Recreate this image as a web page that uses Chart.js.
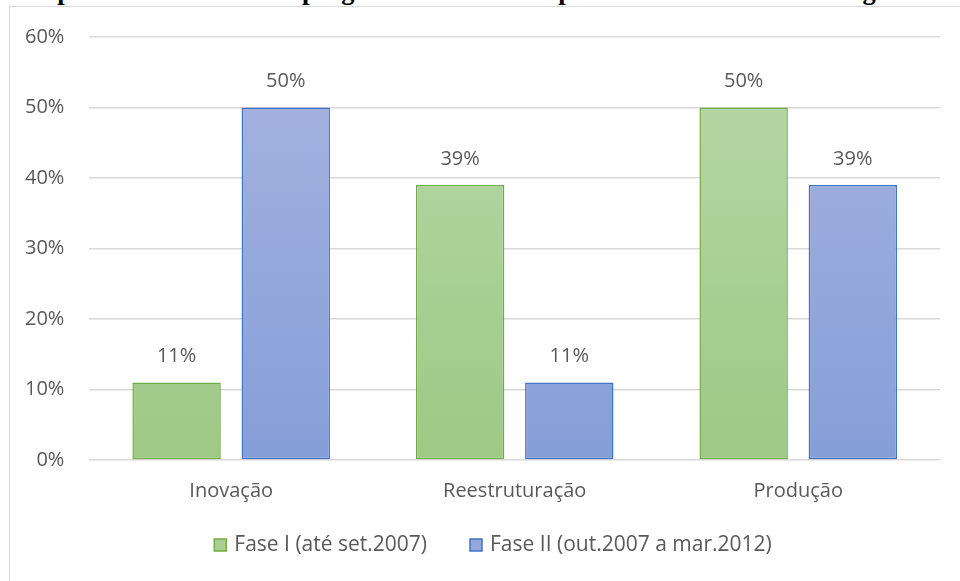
<!DOCTYPE html>
<html>
<head>
<meta charset="utf-8">
<script src="https://cdn.jsdelivr.net/npm/chart.js@4"></script>
<style>
  html, body { margin: 0; padding: 0; background: #fff; overflow: hidden; }
  #wrap { position: relative; width: 960px; height: 581px; overflow: hidden; }
  #frame { position: absolute; left: 9px; top: 6px; width: 980px; height: 600px; border: 1px solid #d9d9d9; box-sizing: border-box; }
  #title { position: absolute; left: 44px; top: -25px; line-height: 26px; white-space: nowrap; font: bold 26.5px 'Liberation Serif', serif; color: #000; }
  #chart { position: absolute; left: 0; top: 0; }
</style>
</head>
<body>
<div id="wrap">
  <div id="title">aprovadas em seus subprogramas durante os períodos selecionados de vigência</div>
  <div id="frame"></div>
  <canvas id="chart" width="960" height="581"></canvas>
</div>
<script>
// Chart data
const categories = ['Inovação', 'Reestruturação', 'Produção'];
const fase1 = [11, 39, 50];
const fase2 = [50, 11, 39];
const seriesNames = ['Fase I (até set.2007)', 'Fase II (out.2007 a mar.2012)'];
const yTicks = [0, 10, 20, 30, 40, 50, 60];

document.addEventListener("DOMContentLoaded", function() {
    const fontOpts = { family: "'Open Sans', sans-serif", size: 20 };
    const textColor = '#595959';
    const fills = ['#a9d08e', '#95a8dc'];
    const strokes = ['#70ad47', '#4472c4'];

    function grad(ctx, top, bottom, fallback) {
        const area = ctx.chart.chartArea;
        if (!area) return fallback;
        const g = ctx.chart.ctx.createLinearGradient(0, area.top, 0, area.bottom);
        g.addColorStop(0, top);
        g.addColorStop(1, bottom);
        return g;
    }

    // Value labels above bars
    const valueLabels = {
        id: 'valueLabels',
        afterDatasetsDraw(chart) {
            const c = chart.ctx;
            c.save();
            c.font = "20px " + fontOpts.family;
            c.fillStyle = textColor;
            c.textAlign = 'center';
            c.textBaseline = 'middle';
            chart.data.datasets.forEach((ds, i) => {
                chart.getDatasetMeta(i).data.forEach((bar, j) => {
                    c.fillText(ds.data[j] + '%', bar.x, bar.y - 26);
                });
            });
            c.restore();
        }
    };

    // Legend drawn under the chart, centred like the Excel one
    const bottomLegend = {
        id: 'bottomLegend',
        afterDraw(chart) {
            const c = chart.ctx;
            const box = 12, gapText = 10, gapItem = 41, cx = 494, cy = 545;
            c.save();
            c.font = "21px " + fontOpts.family;
            c.textBaseline = 'middle';
            const widths = seriesNames.map(n => c.measureText(n).width);
            let total = gapItem * (seriesNames.length - 1);
            widths.forEach(w => { total += box + gapText + w; });
            let x = cx - total / 2;
            seriesNames.forEach((n, i) => {
                c.fillStyle = fills[i];
                c.strokeStyle = strokes[i];
                c.lineWidth = 1.5;
                c.fillRect(x, cy - box / 2, box, box);
                c.strokeRect(x, cy - box / 2, box, box);
                c.fillStyle = textColor;
                c.fillText(n, x + box + gapText - 2, cy);
                x += box + gapText + widths[i] + gapItem;
            });
            c.restore();
        }
    };

    new Chart(document.getElementById('chart').getContext('2d'), {
        type: 'bar',
        data: {
            labels: categories,
            datasets: [
                {
                    label: seriesNames[0],
                    data: fase1,
                    backgroundColor: ctx => grad(ctx, '#b8d8aa', '#9dc984', fills[0]),
                    borderColor: strokes[0],
                    borderWidth: 1.5,
                    borderSkipped: false,
                    barPercentage: 0.81,
                    categoryPercentage: 0.77
                },
                {
                    label: seriesNames[1],
                    data: fase2,
                    backgroundColor: ctx => grad(ctx, '#a7b4e0', '#869ed8', fills[1]),
                    borderColor: strokes[1],
                    borderWidth: 1.5,
                    borderSkipped: false,
                    barPercentage: 0.81,
                    categoryPercentage: 0.77
                }
            ]
        },
        options: {
            responsive: false, animation: false,
            layout: { padding: { left: 0, right: 20, top: 33, bottom: 59 } },
            plugins: {
                tooltip: { enabled: false },
                legend: { display: false }
            },
            scales: {
                x: {
                    grid: { display: false, drawTicks: false },
                    border: { display: false },
                    ticks: { font: fontOpts, color: textColor, padding: 19 }
                },
                y: {
                    min: 0, max: 60,
                    afterBuildTicks: axis => { axis.ticks = yTicks.map(v => ({ value: v })); },
                    grid: { color: '#d9d9d9', lineWidth: 1.5, drawTicks: false },
                    border: { display: false },
                    ticks: { font: fontOpts, color: textColor, padding: 25, callback: v => v + '%' }
                }
            }
        },
        plugins: [valueLabels, bottomLegend]
    });
});
</script>
</body>
</html>
